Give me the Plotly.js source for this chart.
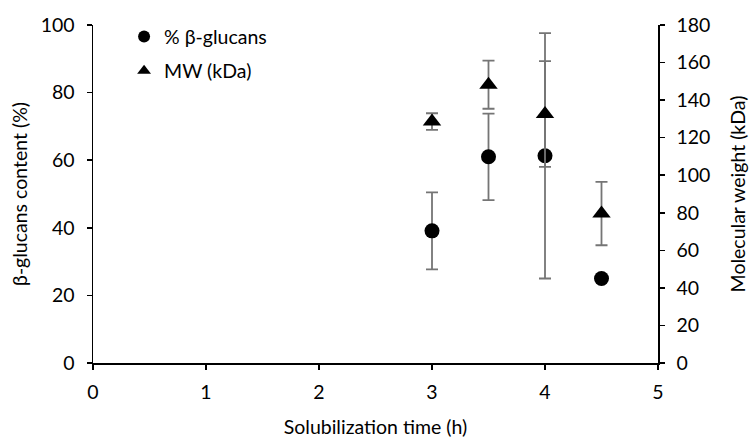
<!DOCTYPE html>
<html>
<head>
<meta charset="utf-8">
<script src="https://cdn.plot.ly/plotly-3.0.1.min.js"></script>
<style>html,body{margin:0;padding:0;background:#fff;}#chart{width:750px;height:442px;}</style>
</head>
<body>
<div id="chart"></div>
<script>
// Data
const times = [3, 3.5, 4, 4.5];
const glucans = [39.1, 61.0, 61.3, 25.0];
const glucansErr = [11.4, 12.8, 36.3, 0];
const mw = [128.6, 148.2, 132.6, 79.6];
const mwErr = [4.4, 12.8, 28.2, 16.9];
const seriesNames = ['% β-glucans', 'MW (kDa)'];
const xTicks = [0, 1, 2, 3, 4, 5];

const FONT = 'Lato, "Noto Sans", sans-serif';
const FS = 19.5;
const errStyle = (arr) => ({type: 'data', array: arr, visible: true, color: '#757575', thickness: 1.8, width: 6});

const traces = [
  // error bars only (drawn beneath all markers)
  {x: times, y: glucans, type: 'scatter', mode: 'markers', yaxis: 'y',
   marker: {color: 'rgba(0,0,0,0)', size: 15}, error_y: errStyle(glucansErr),
   showlegend: false, hoverinfo: 'skip'},
  {x: times, y: mw, type: 'scatter', mode: 'markers', yaxis: 'y2',
   marker: {color: 'rgba(0,0,0,0)', size: 15}, error_y: errStyle(mwErr),
   showlegend: false, hoverinfo: 'skip'},
  // markers
  {x: times, y: glucans, type: 'scatter', mode: 'markers', yaxis: 'y', name: seriesNames[0],
   legendgroup: 'a', marker: {color: '#000', size: 15, symbol: 'circle'}},
  {x: times, y: mw, type: 'scatter', mode: 'markers', yaxis: 'y2', name: seriesNames[1],
   legendgroup: 'b', marker: {color: '#000', size: 16, symbol: 'triangle-up'}}
];

const layout = {
  width: 750, height: 442,
  margin: {l: 93, r: 92, t: 25, b: 79},
  paper_bgcolor: '#fff', plot_bgcolor: '#fff',
  font: {family: FONT, size: FS, color: '#000'},
  showlegend: true,
  legend: {x: 0.055, y: 1.023, xanchor: 'left', yanchor: 'top', bgcolor: 'rgba(0,0,0,0)',
           font: {family: FONT, size: FS, color: '#000'}, itemsizing: 'constant',
           tracegroupgap: 6, traceorder: 'grouped'},
  xaxis: {range: [0, 5], tickvals: xTicks, ticktext: xTicks.map(String),
          showline: true, linecolor: '#000', linewidth: 1.5, ticks: 'outside', ticklen: 5,
          tickcolor: '#000', tickwidth: 1.5, showgrid: false, zeroline: false,
          ticklabelstandoff: 6,
          title: {text: 'Solubilization time (h)', standoff: 18, font: {family: FONT, size: FS}}},
  yaxis: {range: [0, 100], dtick: 20, showline: true, linecolor: '#000', linewidth: 1.5,
          ticks: 'outside', ticklen: 5, tickcolor: '#000', tickwidth: 1.5, showgrid: false,
          zeroline: false, ticklabelstandoff: 8,
          title: {text: 'β-glucans content (%)', standoff: 8, font: {family: FONT, size: FS}}},
  yaxis2: {range: [0, 180], dtick: 20, overlaying: 'y', side: 'right', showline: true,
           linecolor: '#000', linewidth: 1.5, ticks: 'outside', ticklen: 5, tickcolor: '#000',
           tickwidth: 1.5, showgrid: false, zeroline: false, ticklabelstandoff: 8,
           title: {text: 'Molecular weight (kDa)', standoff: 22, font: {family: FONT, size: FS}}}
};

Plotly.newPlot('chart', traces, layout, {staticPlot: true, displayModeBar: false});
</script>
</body>
</html>
